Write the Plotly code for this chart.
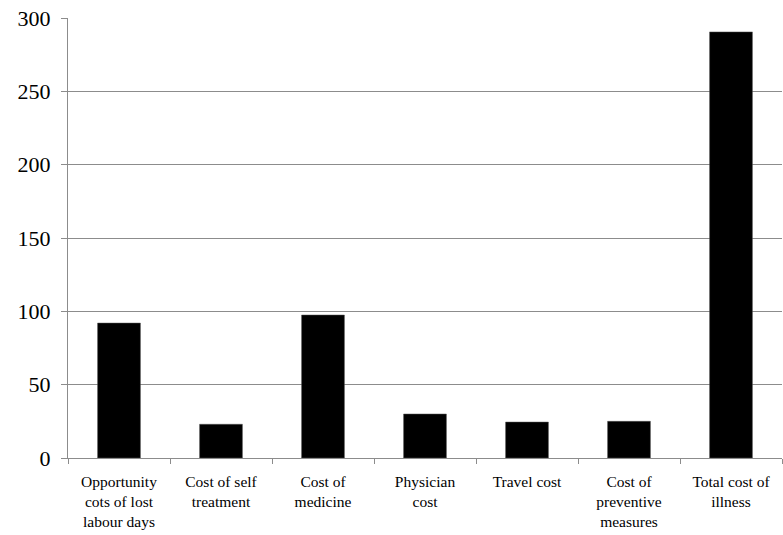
import plotly.graph_objects as go

categories = [
    "Opportunity<br>cots of lost<br>labour days",
    "Cost of self<br>treatment",
    "Cost of<br>medicine",
    "Physician<br>cost",
    "Travel cost",
    "Cost of<br>preventive<br>measures",
    "Total cost of<br>illness",
]
values = [92, 23, 97.5, 30, 24.5, 25, 290.5]
y_ticks = [0, 50, 100, 150, 200, 250, 300]

fig = go.Figure(
    go.Bar(
        x=categories,
        y=values,
        marker=dict(color="#000000", line=dict(color="#555555", width=0.5)),
        width=0.42,
    )
)

font_family = "Liberation Serif, Times New Roman, serif"
fig.update_layout(
    width=783,
    height=535,
    margin=dict(l=68, r=1, t=18, b=77, autoexpand=False),
    plot_bgcolor="white",
    paper_bgcolor="white",
    showlegend=False,
    font=dict(family=font_family, color="#000000"),
)
fig.update_yaxes(
    range=[0, 300],
    tickvals=y_ticks,
    showgrid=True,
    gridcolor="#8c8c8c",
    gridwidth=1,
    showline=True,
    linecolor="#8c8c8c",
    linewidth=1,
    ticks="outside",
    ticklen=6,
    tickcolor="#8c8c8c",
    tickfont=dict(size=22, family=font_family),
    ticklabelstandoff=6,
    ticklabeloverflow="allow",
    zeroline=False,
    automargin=False,
)
fig.update_xaxes(
    showline=True,
    linecolor="#8c8c8c",
    linewidth=1,
    ticks="outside",
    tickson="boundaries",
    ticklen=5,
    tickcolor="#8c8c8c",
    tickfont=dict(size=15.5, family=font_family),
    tickangle=0,
    ticklabelstandoff=9,
    ticklabeloverflow="allow",
    automargin=False,
)

fig.write_html(
    "out.html",
    config={"displayModeBar": False},
    post_script="document.body.style.margin='0';document.body.style.overflow='hidden';",
)
